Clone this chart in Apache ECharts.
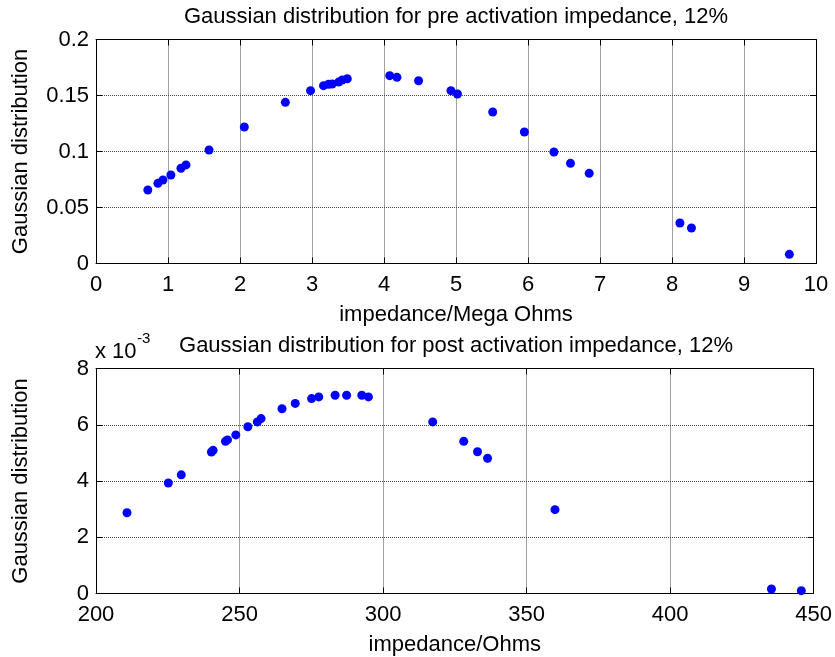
<!DOCTYPE html>
<html>
<head>
<meta charset="utf-8">
<script src="https://cdn.jsdelivr.net/npm/echarts@6/dist/echarts.min.js"></script>
<style>html,body{margin:0;padding:0;background:#fff}#c{width:835px;height:657px}</style>
</head>
<body>
<div id="c"></div>
<script>
// Top plot: pre activation impedance (Mega Ohms) vs Gaussian distribution
var preX = [0.72, 0.86, 0.93, 1.04, 1.18, 1.25, 1.57, 2.06, 2.63, 2.98, 3.16, 3.23, 3.28, 3.37, 3.42, 3.49, 4.08, 4.18, 4.48, 4.93, 5.02, 5.51, 5.95, 6.36, 6.59, 6.85, 8.11, 8.27, 9.63];
var preY = [0.0656, 0.0716, 0.0746, 0.079, 0.085, 0.088, 0.1013, 0.1219, 0.1439, 0.1543, 0.1588, 0.160, 0.1603, 0.162, 0.1638, 0.165, 0.1677, 0.1662, 0.1632, 0.1543, 0.1513, 0.1353, 0.1174, 0.0996, 0.0894, 0.0805, 0.0362, 0.0317, 0.0082];
// Bottom plot: post activation impedance (Ohms) vs Gaussian distribution
var postX = [210.8, 225.2, 229.7, 240.2, 240.8, 245.1, 245.8, 248.7, 252.9, 256.2, 257.5, 264.8, 269.4, 275.1, 277.6, 283.3, 287.3, 292.6, 294.9, 317.3, 328.1, 332.9, 336.4, 359.9, 435.3, 445.7];
var postY = [0.00287, 0.00393, 0.00422, 0.00503, 0.00509, 0.00541, 0.00546, 0.00564, 0.00593, 0.00610, 0.00622, 0.00657, 0.00676, 0.00693, 0.00699, 0.00705, 0.00705, 0.00705, 0.00699, 0.00610, 0.00541, 0.00504, 0.00481, 0.00298, 0.00016, 0.00010];
var titles = ['Gaussian distribution for pre activation impedance, 12%', 'Gaussian distribution for post activation impedance, 12%'];
var xNames = ['impedance/Mega Ohms', 'impedance/Ohms'];
var yName = 'Gaussian distribution';

function zip(a, b) { return a.map(function (v, i) { return [v, b[i]]; }); }

var FONT = '"Liberation Sans", Arial, sans-serif';
var FS = 22;
var grids = [
  { left: 96, top: 39.5, width: 720, height: 224 },
  { left: 96, top: 368.5, width: 719, height: 225 }
];
function xAx(gi, min, max, itv, name) {
  return [{
    gridIndex: gi, type: 'value', min: min, max: max, interval: itv, position: 'bottom',
    name: name, nameLocation: 'middle', nameGap: 40,
    nameTextStyle: { fontFamily: FONT, fontSize: FS, color: '#000' },
    axisLine: { onZero: false, lineStyle: { color: '#000', width: 1 } },
    axisTick: { inside: true, length: 6, lineStyle: { color: '#000' } },
    axisLabel: { fontFamily: FONT, fontSize: FS, color: '#000', margin: 10 },
    splitLine: { show: true, lineStyle: { type: 'dotted', color: '#444', width: 1 } }
  }, {
    gridIndex: gi, type: 'value', min: min, max: max, interval: itv, position: 'top',
    axisLine: { onZero: false, lineStyle: { color: '#000', width: 1 } },
    axisTick: { inside: true, length: 6, lineStyle: { color: '#000' } },
    axisLabel: { show: false }, splitLine: { show: false }
  }];
}
function yAx(gi, min, max, itv, fmt) {
  return [{
    gridIndex: gi, type: 'value', min: min, max: max, interval: itv, position: 'left',
    name: yName, nameLocation: 'middle', nameGap: 64, nameRotate: 90,
    nameTextStyle: { fontFamily: FONT, fontSize: FS, color: '#000' },
    axisLine: { show: true, onZero: false, lineStyle: { color: '#000', width: 1 } },
    axisTick: { show: true, inside: true, length: 6, lineStyle: { color: '#000' } },
    axisLabel: { fontFamily: FONT, fontSize: FS, color: '#000', margin: 7, formatter: fmt },
    splitLine: { show: true, lineStyle: { type: 'dotted', color: '#444', width: 1 } }
  }, {
    gridIndex: gi, type: 'value', min: min, max: max, interval: itv, position: 'right',
    axisLine: { show: true, onZero: false, lineStyle: { color: '#000', width: 1 } },
    axisTick: { show: true, inside: true, length: 6, lineStyle: { color: '#000' } },
    axisLabel: { show: false }, splitLine: { show: false }
  }];
}

var chart = echarts.init(document.getElementById('c'), null, { renderer: 'canvas' });
chart.setOption({
  animation: false,
  backgroundColor: '#fff',
  grid: grids,
  xAxis: xAx(0, 0, 10, 1, xNames[0]).concat(xAx(1, 200, 450, 50, xNames[1])),
  yAxis: yAx(0, 0, 0.2, 0.05, null).concat(yAx(1, 0, 0.008, 0.002, function (v) { return String(Math.round(v * 1000)); })),
  graphic: [
    { type: 'text', x: 456, y: 16.5, style: { text: titles[0], font: FS + 'px ' + FONT, fill: '#000', align: 'center', verticalAlign: 'middle' } },
    { type: 'text', x: 456, y: 346, style: { text: titles[1], font: FS + 'px ' + FONT, fill: '#000', align: 'center', verticalAlign: 'middle' } },
    { type: 'text', x: 95, y: 352, style: { text: 'x 10', font: FS + 'px ' + FONT, fill: '#000', align: 'left', verticalAlign: 'middle' } },
    { type: 'text', x: 137, y: 339, style: { text: '-3', font: '15px ' + FONT, fill: '#000', align: 'left', verticalAlign: 'middle' } }
  ],
  series: [
    { type: 'scatter', xAxisIndex: 0, yAxisIndex: 0, data: zip(preX, preY), symbol: 'circle', symbolSize: 9, itemStyle: { color: '#0000ff', opacity: 1 } },
    { type: 'scatter', xAxisIndex: 2, yAxisIndex: 2, data: zip(postX, postY), symbol: 'circle', symbolSize: 9, itemStyle: { color: '#0000ff', opacity: 1 } }
  ]
});
</script>
</body>
</html>
